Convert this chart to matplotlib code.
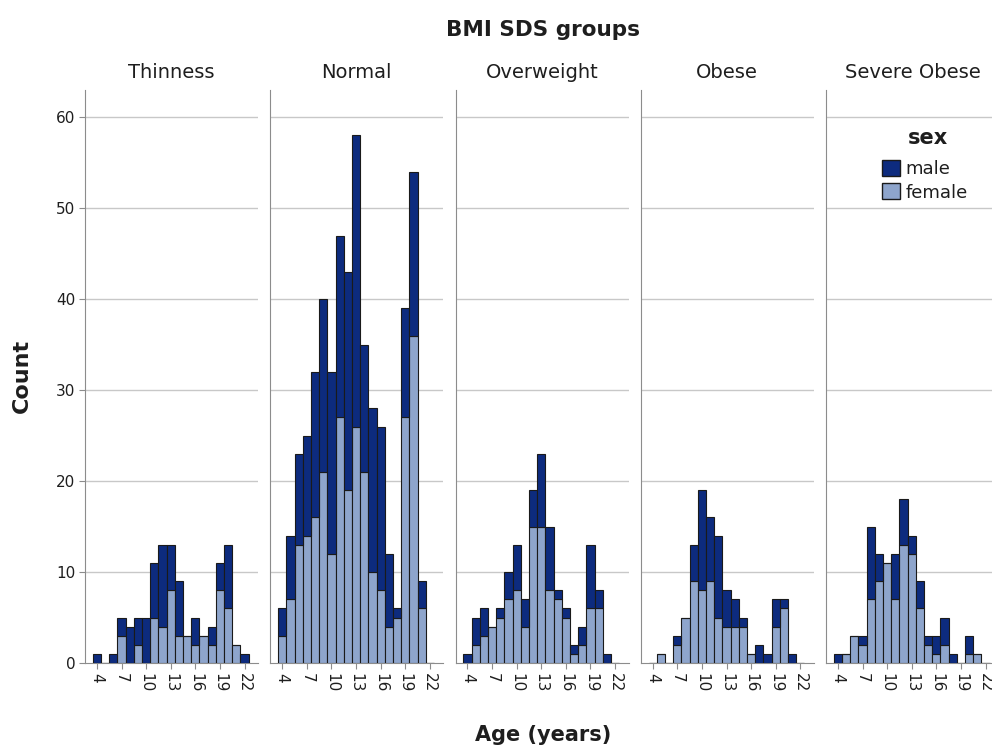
''' Stacked age histograms by BMI SDS group, split by sex
'''

import numpy as np
import matplotlib
matplotlib.use('Agg')
import matplotlib.pyplot as plt
from matplotlib.patches import Patch

plt.rcParams['font.family'] = ['DejaVu Sans']

groups = ["Thinness", "Normal", "Overweight", "Obese", "Severe Obese"]
ages = np.arange(4, 23)

# counts per age 4..22
thin_female = [0, 0, 0, 3, 0, 2, 0, 5, 4, 8, 3, 3, 2, 3, 2, 8, 6, 2, 0]
thin_male = [1, 0, 1, 2, 4, 3, 5, 6, 9, 5, 6, 0, 3, 0, 2, 3, 7, 0, 1]
normal_female = [3, 7, 13, 14, 16, 21, 12, 27, 19, 26, 21, 10, 8, 4, 5, 27, 36, 6, 0]
normal_male = [3, 7, 10, 11, 16, 19, 20, 20, 24, 32, 14, 18, 18, 8, 1, 12, 18, 3, 0]
over_female = [0, 2, 3, 4, 5, 7, 8, 4, 15, 15, 8, 7, 5, 1, 2, 6, 6, 0, 0]
over_male = [1, 3, 3, 0, 1, 3, 5, 3, 4, 8, 7, 1, 1, 1, 2, 7, 2, 1, 0]
obese_female = [0, 1, 0, 2, 5, 9, 8, 9, 5, 4, 4, 4, 1, 0, 0, 4, 6, 0, 0]
obese_male = [0, 0, 0, 1, 0, 4, 11, 7, 9, 4, 3, 1, 0, 2, 1, 3, 1, 1, 0]
severe_female = [0, 1, 3, 2, 7, 9, 11, 7, 13, 12, 6, 2, 1, 2, 0, 0, 1, 1, 0]
severe_male = [1, 0, 0, 1, 8, 3, 0, 5, 5, 2, 3, 1, 2, 3, 1, 0, 2, 0, 0]

female = [thin_female, normal_female, over_female, obese_female, severe_female]
male = [thin_male, normal_male, over_male, obese_male, severe_male]

xticks = [4, 7, 10, 13, 16, 19, 22]
yticks = [0, 10, 20, 30, 40, 50, 60]

MALE_C = "#0d2b7e"
FEMALE_C = "#8ea5cc"
EDGE = "#1a1a1a"
SPINE = "#8c8c8c"
TXT = "#1e1e1e"

W, H = 992, 746
fig = plt.figure(figsize=(W / 100, H / 100), dpi=100)

left0 = 85
pw = 173
step = 185.25
bottom = 663
top = 90

for i, name in enumerate(groups):
    ax = fig.add_axes([(left0 + i * step) / W, 1 - bottom / H,
                       pw / W, (bottom - top) / H])
    f = np.array(female[i])
    m = np.array(male[i])
    ax.bar(ages, f, width=1.0, color=FEMALE_C, edgecolor=EDGE, linewidth=0.8,
           zorder=3)
    ax.bar(ages, m, width=1.0, bottom=f, color=MALE_C, edgecolor=EDGE,
           linewidth=0.8, zorder=3)
    ax.set_xlim(2.54, 23.64)
    ax.set_ylim(0, 63)
    ax.set_yticks(yticks)
    ax.set_xticks(xticks)
    ax.set_xticklabels([str(t) for t in xticks], rotation=-90)
    for y in yticks[1:]:
        ax.axhline(y, color="#c8c8c8", linewidth=1.0, zorder=1)
    for s in ["top", "right"]:
        ax.spines[s].set_visible(False)
    ax.spines["left"].set_color(SPINE)
    ax.spines["bottom"].set_color(SPINE)
    ax.tick_params(axis="both", color=SPINE, length=4, width=0.8, pad=3,
                   labelsize=11, labelcolor=TXT)
    if i == 0:
        ax.set_yticklabels([str(t) for t in yticks])
    else:
        ax.tick_params(axis="y", left=False, labelleft=False)
    ax.text(0.5, 1 + 18 / (bottom - top), name, transform=ax.transAxes,
            ha="center", va="center", fontsize=14, color=TXT)

# legend sits in the last panel
handles = [Patch(facecolor=MALE_C, edgecolor=EDGE, label="male"),
           Patch(facecolor=FEMALE_C, edgecolor=EDGE, label="female")]
fig.legend(handles=handles, loc="upper left",
           bbox_to_anchor=(882 / W, 1 - 160 / H), frameon=False,
           fontsize=13, handlelength=1.0, handleheight=1.0,
           handletextpad=0.3, labelspacing=0.28, borderpad=0,
           borderaxespad=0, labelcolor=TXT)
fig.text(928 / W, 1 - 138 / H, "sex", ha="center", va="center",
         fontsize=15, fontweight="bold", color=TXT)

fig.text(543 / W, 1 - 30 / H, "BMI SDS groups", ha="center", va="center",
         fontsize=15.5, fontweight="bold", color=TXT)
fig.text(543 / W, 1 - 735 / H, "Age (years)", ha="center", va="center",
         fontsize=15, fontweight="bold", color=TXT)
fig.text(22 / W, 1 - 376 / H, "Count", ha="center", va="center",
         rotation=90, fontsize=16, fontweight="bold", color=TXT)

fig.savefig("out.png", dpi=100)
plt.close(fig)
